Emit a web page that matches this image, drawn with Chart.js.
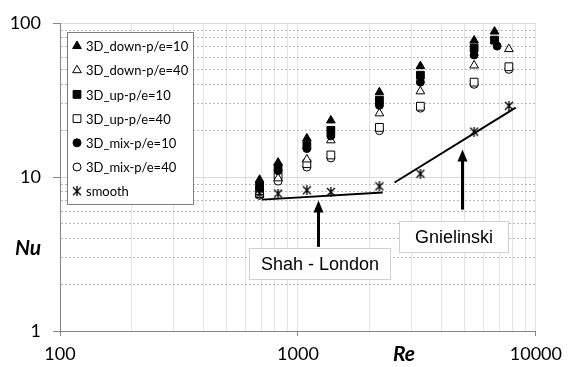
<!DOCTYPE html>
<html>
<head>
<meta charset="utf-8">
<script src="https://cdn.jsdelivr.net/npm/chart.js@4.4.1/dist/chart.umd.min.js"></script>
<style>
  html, body { margin: 0; padding: 0; background: #fff; }
  #wrap { width: 569px; height: 367px; }
</style>
</head>
<body>
<div id="wrap"><canvas id="nuChart" width="569" height="367"></canvas></div>
<script>
// Re of each measurement column
const reCols = [690, 825, 1090, 1375, 2200, 3270, 5500, 6700];
const reColsOpen = [690, 825, 1090, 1375, 2200, 3270, 5500, 7700];
const reColsMix10 = [690, 825, 1090, 1375, 2200, 3270, 5500, 6870];

// Nu values
const nuDown10 = [9.6, 12.4, 17.8, 23.3, 35.5, 52.5, 77, 88];
const nuDown40 = [8.0, 9.8, 13.0, 17.3, 25.9, 36, 53, 67.7];
const nuUp10 = [8.8, 11.5, 16.0, 20.1, 31.5, 45.8, 68.8, 77.4];
const nuUp40 = [7.8, 10.2, 12.2, 13.9, 21, 28.8, 41.3, 52];
const nuMix10 = [8.5, 11.0, 15.3, 18.5, 29.2, 41.3, 62, 70.8];
const nuMix40 = [7.6, 9.4, 11.6, 13.3, 20, 28, 40, 50];
const nuSmooth = [7.8, 7.8, 8.2, 8.0, 8.7, 10.5, 19.7, 29];

const seriesLabels = ['3D_down-p/e=10', '3D_down-p/e=40', '3D_up-p/e=10', '3D_up-p/e=40',
                      '3D_mix-p/e=10', '3D_mix-p/e=40', 'smooth'];

// correlations
const reShah = [706, 2270];
const nuShah = [7.13, 7.93];
const reGniel = [2546, 8223];
const nuGniel = [9.21, 28.2];

// axis ticks
const xTickValues = [100, 200, 300, 400, 500, 600, 700, 800, 900,
                     1000, 2000, 3000, 4000, 5000, 6000, 7000, 8000, 9000, 10000];
const yTickValues = [1, 2, 3, 4, 5, 6, 7, 8, 9, 10, 20, 30, 40, 50, 60, 70, 80, 90, 100];
const xTickLabels = ['100', '1000', '10000'];
const yTickLabels = ['1', '10', '100'];

const FONT = 'Lato, "Liberation Sans", sans-serif';

// Excel-like star marker: X with a vertical stroke
function makeStar(size) {
    const c = document.createElement('canvas');
    c.width = size; c.height = size;
    const g = c.getContext('2d');
    g.strokeStyle = '#000';
    g.lineWidth = 1.3;
    const h = size / 2;
    g.beginPath();
    g.moveTo(1, 1); g.lineTo(size - 1, size - 1);
    g.moveTo(size - 1, 1); g.lineTo(1, size - 1);
    g.moveTo(h, 0); g.lineTo(h, size);
    g.stroke();
    return c;
}
const starMarker = makeStar(10);

const pts = (xs, ys) => xs.map((x, i) => ({ x: x, y: ys[i] }));

function markerSet(label, xs, ys, style, filled, radius, order) {
    return {
        label: label,
        data: pts(xs, ys),
        showLine: false,
        pointStyle: style,
        pointRadius: radius,
        pointHoverRadius: radius,
        pointBackgroundColor: filled ? '#000' : '#fff',
        pointBorderColor: '#000',
        pointBorderWidth: 1,
        order: order
    };
}

function lineSet(label, xs, ys) {
    return {
        label: label,
        data: pts(xs, ys),
        showLine: true,
        borderColor: '#000',
        borderWidth: 2,
        pointRadius: 0,
        order: 10
    };
}

const datasets = [
    markerSet(seriesLabels[0], reCols, nuDown10, 'triangle', true, 5, 1),
    markerSet(seriesLabels[1], reColsOpen, nuDown40, 'triangle', false, 5, 4),
    markerSet(seriesLabels[2], reCols, nuUp10, 'rect', true, 5.5, 2),
    markerSet(seriesLabels[3], reColsOpen, nuUp40, 'rect', false, 5.5, 5),
    markerSet(seriesLabels[4], reColsMix10, nuMix10, 'circle', true, 4, 3),
    markerSet(seriesLabels[5], reColsOpen, nuMix40, 'circle', false, 4, 6),
    markerSet(seriesLabels[6], reColsOpen, nuSmooth, starMarker, false, 5, 0),
    lineSet('Shah - London', reShah, nuShah),
    lineSet('Gnielinski', reGniel, nuGniel)
];

// annotation anchors (data space)
const notes = [
    { text: 'Shah - London', box: [623, 2443, 3.46, 2.16], arrow: [1212, 3.52, 7.03] },
    { text: 'Gnielinski', box: [2667, 7652, 5.16, 3.27], arrow: [4898, 6.14, 15.1] }
];

const notesPlugin = {
    id: 'notes',
    afterDatasetsDraw(chart) {
        const ctx = chart.ctx;
        const xs = chart.scales.x, ys = chart.scales.y;
        ctx.save();
        notes.forEach(n => {
            // arrow
            const ax = Math.round(xs.getPixelForValue(n.arrow[0])) + 0.5;
            const y0 = ys.getPixelForValue(n.arrow[1]);
            const y1 = ys.getPixelForValue(n.arrow[2]);
            ctx.strokeStyle = '#000';
            ctx.fillStyle = '#000';
            ctx.lineWidth = 3;
            ctx.beginPath();
            ctx.moveTo(ax, y0);
            ctx.lineTo(ax, y1 + 10);
            ctx.stroke();
            ctx.beginPath();
            ctx.moveTo(ax, y1);
            ctx.lineTo(ax - 5, y1 + 12);
            ctx.lineTo(ax + 5, y1 + 12);
            ctx.closePath();
            ctx.fill();
            // text box
            const bx0 = Math.round(xs.getPixelForValue(n.box[0])) + 0.5;
            const bx1 = Math.round(xs.getPixelForValue(n.box[1])) + 0.5;
            const by0 = Math.round(ys.getPixelForValue(n.box[2])) + 0.5;
            const by1 = Math.round(ys.getPixelForValue(n.box[3])) + 0.5;
            ctx.fillStyle = '#fff';
            ctx.fillRect(bx0, by0, bx1 - bx0, by1 - by0);
            ctx.strokeStyle = '#d0d0d0';
            ctx.lineWidth = 1;
            ctx.strokeRect(bx0, by0, bx1 - bx0, by1 - by0);
            ctx.fillStyle = '#000';
            ctx.font = '18px "Liberation Sans", Arial, sans-serif';
            ctx.textAlign = 'center';
            ctx.textBaseline = 'middle';
            ctx.fillText(n.text, (bx0 + bx1) / 2, (by0 + by1) / 2 + 1);
        });
        ctx.restore();
    }
};

// legend box drawn inside the plot, Excel style
const boxLegend = {
    id: 'boxLegend',
    afterDraw(chart) {
        const ctx = chart.ctx;
        const left = 67.5, top = 32.5, w = 126, h = 172;
        ctx.save();
        ctx.fillStyle = '#fff';
        ctx.fillRect(left, top, w, h);
        ctx.strokeStyle = '#7f7f7f';
        ctx.lineWidth = 1;
        ctx.strokeRect(left, top, w, h);
        ctx.font = '13px ' + FONT;
        ctx.textAlign = 'left';
        ctx.textBaseline = 'middle';
        for (let i = 0; i < 7; i++) {
            const ds = chart.data.datasets[i];
            const y = 46 + i * 24.2;
            ctx.fillStyle = ds.pointBackgroundColor;
            ctx.strokeStyle = '#000';
            ctx.lineWidth = 1;
            Chart.helpers.drawPoint(ctx, {
                pointStyle: ds.pointStyle,
                radius: ds.pointRadius,
                borderWidth: 1,
                rotation: 0
            }, 77, y);
            ctx.fillStyle = '#000';
            ctx.fillText(seriesLabels[i], 86, y + 1);
        }
        // axis titles
        ctx.font = 'bold italic 21px ' + FONT;
        ctx.textAlign = 'center';
        ctx.fillText('Nu', 28, 248);
        ctx.fillText('Re', 404, 354);
        ctx.restore();
    }
};

const isPow10 = v => Math.abs(Math.log10(v) - Math.round(Math.log10(v))) < 1e-9;

new Chart(document.getElementById('nuChart').getContext('2d'), {
    type: 'scatter',
    data: { datasets: datasets },
    options: {
        responsive: false,
        animation: false,
        devicePixelRatio: 1,
        layout: { padding: { top: 23, right: 31, left: 0, bottom: 0 } },
        plugins: {
            legend: { display: false },
            tooltip: { enabled: false }
        },
        scales: {
            x: {
                type: 'logarithmic',
                min: 100,
                max: 10000,
                afterBuildTicks: scale => { scale.ticks = xTickValues.map(v => ({ value: v })); },
                afterFit: scale => { scale.height = 36; },
                ticks: {
                    autoSkip: false,
                    maxRotation: 0,
                    padding: 7,
                    color: '#000',
                    font: { family: FONT, size: 18 },
                    callback: v => isPow10(v) ? xTickLabels[Math.round(Math.log10(v)) - 2] : ''
                },
                grid: {
                    color: '#e3e3e3',
                    tickLength: 5,
                    tickColor: c => (c.tick && isPow10(c.tick.value)) ? '#868686' : 'rgba(0,0,0,0)'
                },
                border: { color: '#868686', width: 1 }
            },
            y: {
                type: 'logarithmic',
                min: 1,
                max: 100,
                afterBuildTicks: scale => { scale.ticks = yTickValues.map(v => ({ value: v })); },
                afterFit: scale => { scale.width = 60; },
                ticks: {
                    autoSkip: false,
                    padding: 12,
                    color: '#000',
                    font: { family: FONT, size: 18 },
                    callback: v => isPow10(v) ? yTickLabels[Math.round(Math.log10(v))] : ''
                },
                grid: {
                    color: c => (c.tick && isPow10(c.tick.value)) ? '#d9d9d9' : '#b8b8b8',
                    tickLength: 7,
                    tickColor: c => (c.tick && isPow10(c.tick.value)) ? '#868686' : 'rgba(0,0,0,0)'
                },
                border: {
                    color: '#868686',
                    width: 1,
                    dash: c => (c.tick && !isPow10(c.tick.value)) ? [2, 2] : []
                }
            }
        }
    },
    plugins: [notesPlugin, boxLegend]
});
</script>
</body>
</html>
